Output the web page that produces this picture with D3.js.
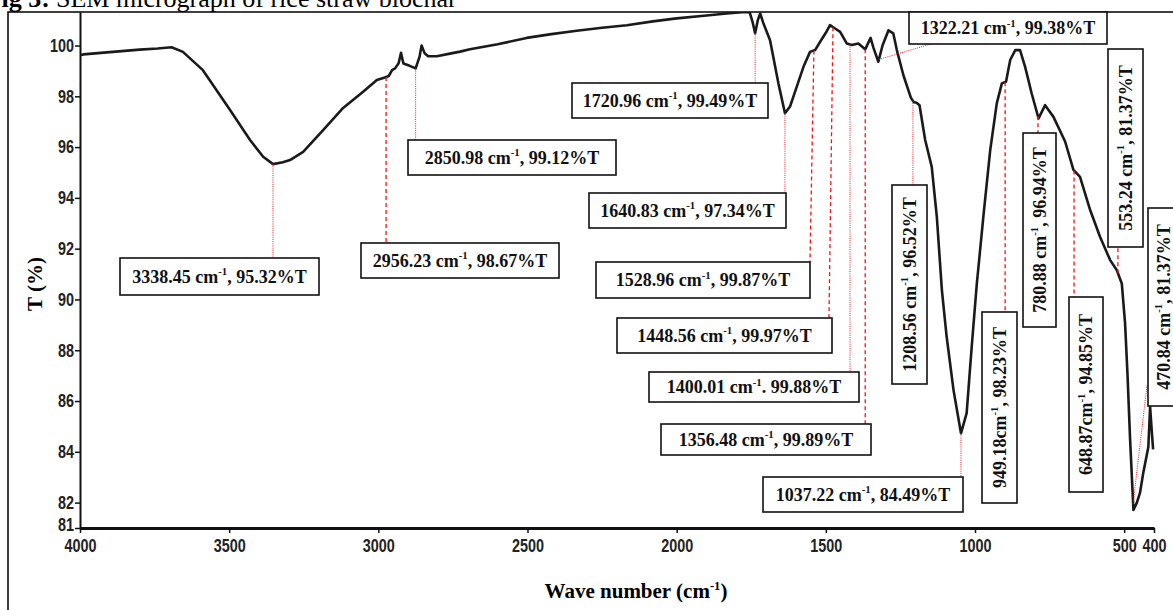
<!DOCTYPE html>
<html>
<head>
<meta charset="utf-8">
<script src="https://cdn.jsdelivr.net/npm/d3@7"></script>
<style>
  body { margin: 0; background: #fff; }
  svg { display: block; }
</style>
</head>
<body>
<script>
// FTIR spectrum: wavenumber (cm-1) and transmittance (%)
var waveNumbers = [4000, 3989, 3900, 3800, 3740, 3693, 3655, 3588, 3497, 3430, 3386, 3353, 3320, 3296, 3252,
  3185, 3118, 3051, 3005, 2978, 2965, 2954, 2944, 2932, 2924, 2916, 2895, 2875, 2862, 2855, 2845, 2833, 2804,
  2760, 2726, 2693, 2600, 2503, 2420, 2335, 2250, 2167, 2080, 2000, 1900, 1832, 1771, 1755, 1745, 1737, 1728,
  1720, 1710, 1687, 1659, 1637, 1620, 1609, 1575, 1553, 1536, 1519, 1500, 1486, 1469, 1452, 1430, 1413, 1391,
  1368, 1350, 1340, 1324, 1310, 1290, 1274, 1262, 1240, 1215, 1206, 1196, 1186, 1167, 1145, 1128, 1111, 1095,
  1072, 1047, 1028, 1011, 994, 972, 949, 927, 910, 896, 882, 865, 849, 832, 810, 787, 765, 737, 698, 670, 648,
  614, 581, 547, 525, 508, 497, 489, 480, 469, 458, 447, 436, 419, 413, 407, 403];
var transmittance = [99.62, 99.65, 99.74, 99.84, 99.88, 99.93, 99.75, 99.03, 97.46, 96.28, 95.62, 95.33, 95.40, 95.49, 95.81,
  96.67, 97.54, 98.18, 98.64, 98.74, 98.80, 99.03, 99.10, 99.30, 99.71, 99.29, 99.20, 99.10, 99.55, 100.00, 99.70, 99.58, 99.58,
  99.68, 99.76, 99.85, 100.05, 100.30, 100.45, 100.58, 100.70, 100.80, 100.95, 101.07, 101.18, 101.26, 101.32, 101.30, 100.90, 100.48, 101.00,
  101.26, 100.90, 100.21, 98.51, 97.33, 97.60, 97.98, 99.16, 99.75, 99.82, 100.15, 100.50, 100.80, 100.67, 100.54, 100.08, 100.02, 100.08,
  99.85, 100.30, 99.90, 99.36, 100.00, 100.60, 100.48, 99.82, 98.83, 97.95, 97.78, 97.75, 97.65, 96.28, 95.22, 93.26, 90.37, 88.53,
  86.43, 84.73, 85.52, 88.14, 90.60, 93.26, 95.88, 97.72, 98.51, 98.57, 99.43, 99.82, 99.82, 99.16, 98.11, 97.13, 97.65, 97.19, 96.22, 95.10, 94.83,
  93.52, 92.47, 91.55, 91.16, 90.63, 89.07, 87.10, 84.46, 81.71, 81.98, 82.38, 83.17, 84.19, 85.76, 84.74, 84.10];

var yTicks = [81, 82, 84, 86, 88, 90, 92, 94, 96, 98, 100];
var xTicks = [4000, 3500, 3000, 2500, 2000, 1500, 1000, 500, 400];

// peak annotations, as printed in the figure
var peakLabels = [
  "3338.45 cm-1, 95.32%T", "2956.23 cm-1, 98.67%T", "2850.98 cm-1, 99.12%T", "1720.96 cm-1, 99.49%T",
  "1640.83 cm-1, 97.34%T", "1528.96 cm-1, 99.87%T", "1448.56 cm-1, 99.97%T", "1400.01 cm-1. 99.88%T",
  "1356.48 cm-1, 99.89%T", "1322.21 cm-1, 99.38%T", "1208.56 cm-1, 96.52%T", "1037.22 cm-1, 84.49%T",
  "949.18cm-1, 98.23%T", "780.88 cm-1, 96.94%T", "648.87cm-1, 94.85%T", "553.24 cm-1, 81.37%T",
  "470.84 cm-1, 81.37%T"];
// where each leader line leaves the curve (wavenumber)
var peakMarkWn = [3353, 2974, 2875, 1737, 1637, 1540, 1476, 1419, 1368, 1322, 1208, 1047, 899, 789, 668, 521, 470];

// label box layout (pixels); lead = end of leader line, null x = straight from the peak
var boxes = [
  { x: 120, y: 258, w: 199, h: 37, rot: false, lead: [null, 258], dot: true },
  { x: 361, y: 243, w: 198, h: 35, rot: false, lead: [null, 243], dot: false },
  { x: 408, y: 140, w: 208, h: 35, rot: false, lead: [null, 140], dot: true },
  { x: 572, y: 83, w: 196, h: 35, rot: false, lead: [null, 83], dot: true },
  { x: 589, y: 193, w: 197, h: 35, rot: false, lead: [null, 193], dot: true },
  { x: 596, y: 262, w: 214, h: 36, rot: false, lead: [810, 262], dot: false },
  { x: 617, y: 318, w: 215, h: 35, rot: false, lead: [829, 318], dot: false },
  { x: 649, y: 372, w: 210, h: 30, rot: false, lead: [null, 372], dot: true },
  { x: 661, y: 424, w: 210, h: 31, rot: false, lead: [null, 424], dot: false },
  { x: 909, y: 12, w: 198, h: 32, rot: false, lead: [931, 44], dot: true },
  { x: 892, y: 185, w: 35, h: 199, rot: true, lead: [null, 185], dot: true },
  { x: 763, y: 477, w: 200, h: 35, rot: false, lead: [null, 477], dot: true },
  { x: 982, y: 312, w: 35, h: 191, rot: true, lead: [null, 312], dot: false },
  { x: 1023, y: 133, w: 33, h: 194, rot: true, lead: [null, 133], dot: false },
  { x: 1069, y: 297, w: 34, h: 195, rot: true, lead: [null, 297], dot: false },
  { x: 1108, y: 49, w: 35, h: 198, rot: true, lead: [null, 247], dot: false },
  { x: 1148, y: 208, w: 31, h: 198, rot: true, lead: [1147, 385], dot: true }
];

var width = 1173, height = 610;
var serif = "'Liberation Serif', 'Times New Roman', serif";
var sans = "'Liberation Sans', Arial, sans-serif";

var svg = d3.select("body").append("svg")
  .attr("width", width)
  .attr("height", height);

var x = d3.scaleLinear().domain([4000, 400]).range([80, 1154]);
var y = d3.scaleLinear().domain([81, 101.32]).range([528, 12]);

var spectrum = waveNumbers.map(function(w, i) { return { wn: w, t: transmittance[i] }; });

function tAt(wn) {
  for (var i = 0; i < spectrum.length - 1; i++) {
    var a = spectrum[i], b = spectrum[i + 1];
    if (wn <= a.wn && wn >= b.wn) {
      return a.t + (b.t - a.t) * (a.wn - wn) / (a.wn - b.wn);
    }
  }
  return spectrum[spectrum.length - 1].t;
}

// text with a "-1" superscript after "cm"
function richText(sel, str, size) {
  var parts = str.split("cm-1");
  sel.append("tspan").text(parts[0] + "cm");
  sel.append("tspan").attr("font-size", size * 0.6).attr("dy", -size * 0.4).text("-1");
  sel.append("tspan").attr("dy", size * 0.4).text(parts[1]);
}

// title, cut by the top edge of the page like in the source
svg.append("text")
  .attr("x", 50).attr("y", 7)
  .attr("text-anchor", "end")
  .attr("font-family", serif).attr("font-size", 26).attr("font-weight", "bold")
  .text("Fig 3:");
svg.append("text")
  .attr("x", 56).attr("y", 7)
  .attr("font-family", serif).attr("font-size", 26)
  .text("SEM micrograph of rice straw biochar");

// outer frame
svg.append("path")
  .attr("d", "M8," + (height + 2) + "V12H" + (width + 2))
  .attr("fill", "none")
  .attr("stroke", "#000")
  .attr("stroke-width", 1.5);

// axes
var yAxis = d3.axisLeft(y).tickValues(yTicks).tickSize(5).tickSizeOuter(0);
var gy = svg.append("g").attr("transform", "translate(80,0)").call(yAxis);
gy.select(".domain").attr("stroke", "#111").attr("stroke-width", 2);
gy.selectAll(".tick line").attr("stroke", "#111").attr("stroke-width", 1.5);
gy.selectAll("text")
  .attr("font-family", sans).attr("font-weight", "bold").attr("font-size", 18)
  .attr("fill", "#222")
  .attr("transform", "scale(0.8,1)")
  .attr("x", -6 / 0.8)
  .attr("y", function(d) { return d === 81 ? -3 : 0; });

var xAxis = d3.axisBottom(x).tickValues(xTicks).tickSize(5).tickSizeOuter(0).tickPadding(6)
  .tickFormat(d3.format("d"));
var gx = svg.append("g").attr("transform", "translate(0,528)").call(xAxis);
gx.select(".domain").attr("stroke", "#111").attr("stroke-width", 3);
gx.selectAll(".tick line").attr("stroke", "#111").attr("stroke-width", 1.5);
gx.selectAll("text")
  .attr("font-family", sans).attr("font-weight", "bold").attr("font-size", 18)
  .attr("fill", "#222")
  .attr("transform", "scale(0.8,1)");

svg.append("text")
  .attr("transform", "translate(35,284) rotate(-90)")
  .attr("y", 7)
  .attr("text-anchor", "middle")
  .attr("font-family", serif).attr("font-size", 21).attr("font-weight", "bold")
  .text("T (%)");

var xTitle = svg.append("text")
  .attr("x", 636).attr("y", 598)
  .attr("text-anchor", "middle")
  .attr("font-family", serif).attr("font-size", 21).attr("font-weight", "bold");
richText(xTitle, "Wave number (cm-1)", 21);

// spectrum line
svg.append("clipPath").attr("id", "plot")
  .append("rect").attr("x", 80).attr("y", 12).attr("width", 1080).attr("height", 520);

var line = d3.line()
  .x(function(d) { return x(d.wn); })
  .y(function(d) { return y(d.t); });

svg.append("path")
  .datum(spectrum)
  .attr("clip-path", "url(#plot)")
  .attr("d", line)
  .attr("fill", "none")
  .attr("stroke", "#1a1a1a")
  .attr("stroke-width", 2.6)
  .attr("stroke-linejoin", "round");

// leader lines
peakMarkWn.forEach(function(wn, i) {
  var b = boxes[i];
  var px = x(wn), py = y(tAt(wn));
  svg.append("line")
    .attr("x1", px).attr("y1", py)
    .attr("x2", b.lead[0] == null ? px : b.lead[0])
    .attr("y2", b.lead[1])
    .attr("stroke", "#ff1010")
    .attr("stroke-width", b.dot ? 1 : 1.3)
    .attr("stroke-dasharray", b.dot ? "1,1.2" : "4,3");
});

// label boxes
peakLabels.forEach(function(label, i) {
  var b = boxes[i];
  svg.append("rect")
    .attr("x", b.x).attr("y", b.y).attr("width", b.w).attr("height", b.h)
    .attr("fill", "#fff")
    .attr("stroke", "#111")
    .attr("stroke-width", 1.6);
  var cx = b.x + b.w / 2, cy = b.y + b.h / 2;
  var t = svg.append("text")
    .attr("transform", "translate(" + cx + "," + cy + ")" + (b.rot ? " rotate(-90)" : ""))
    .attr("y", 6)
    .attr("text-anchor", "middle")
    .attr("font-family", serif).attr("font-size", 18).attr("font-weight", "bold")
    .attr("fill", "#111");
  richText(t, label, 18);
});
</script>
</body>
</html>
